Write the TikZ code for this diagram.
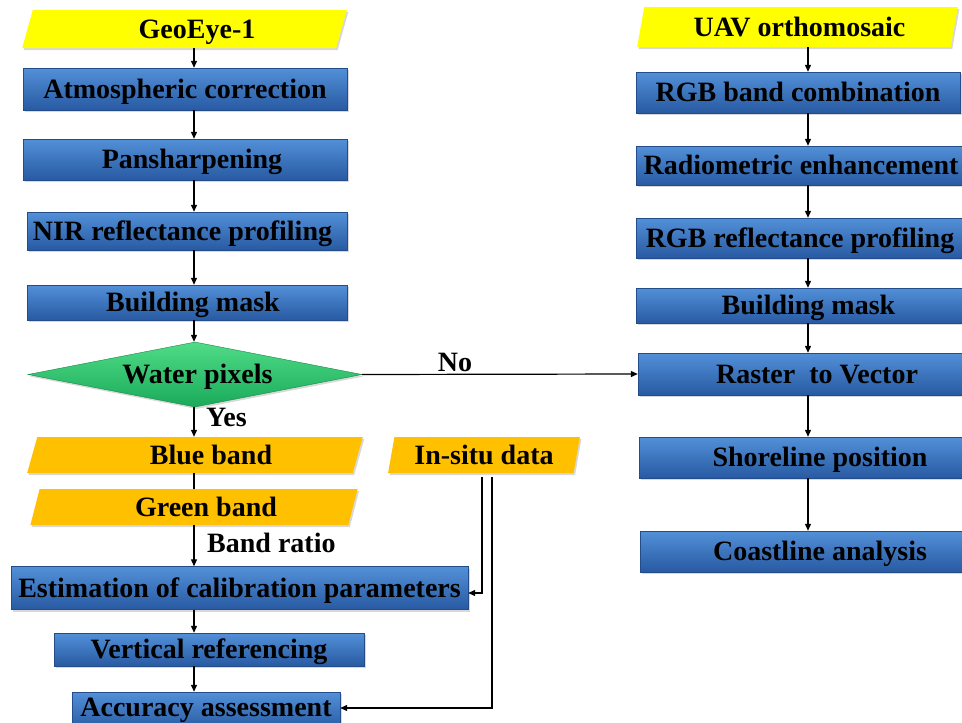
\documentclass[tikz,border=0pt]{standalone}
\usepackage{fontspec}
\setmainfont{Liberation Serif}
\usetikzlibrary{shapes.geometric,shadows,arrows.meta,calc}
\definecolor{boxtop}{RGB}{82,144,216}
\definecolor{boxbot}{RGB}{40,90,162}
\definecolor{ylw}{RGB}{255,255,0}
\definecolor{org}{RGB}{255,192,0}
\definecolor{grntop}{RGB}{80,220,135}
\definecolor{grnbot}{RGB}{25,170,90}
\begin{document}
\begin{tikzpicture}[x=1pt,y=-1pt,
  font=\fontsize{28}{31}\selectfont\bfseries,
  every node/.style={text height=18.5pt, text depth=0pt},
  shad/.style={drop shadow={opacity=0.3,shadow xshift=1.5pt,shadow yshift=-2pt}},
  bbox/.style={rectangle, shade, top color=boxtop, bottom color=boxbot,
    draw=boxbot!85!black, line width=0.4pt, inner sep=0pt, shad},
  para/.style={trapezium, trapezium left angle=75, trapezium right angle=105,
    trapezium stretches=true, inner sep=0pt, shad},
  ylwpara/.style={para, fill=ylw},
  orgpara/.style={para, fill=org},
  decision/.style={diamond, aspect=5.1, inner sep=0pt, shade, top color=grntop,
    bottom color=grnbot, draw=grnbot!80!black, line width=0.4pt, shad},
  lbl/.style={inner sep=0pt},
  arr/.style={line width=1.2pt, -{Triangle[length=7pt,width=6pt]}},
  ln/.style={line width=1.2pt}]
\clip (0,0) rectangle (962,723);
\useasboundingbox (0,0) rectangle (962,723);
\fill[white] (0,0) rectangle (962,723);

% left column
\node[ylwpara, minimum width=325pt, minimum height=38pt] (geo) at (184.5,29) {\hspace*{25pt}GeoEye-1};
\node[bbox, minimum width=324pt, minimum height=42pt] (atm) at (185,89) {Atmospheric correction};
\node[bbox, minimum width=324pt, minimum height=41pt] (pan) at (185,159.5) {\hspace*{14pt}Pansharpening};
\node[bbox, minimum width=320pt, minimum height=38pt] (nir) at (187,231) {NIR reflectance profiling\hspace*{9pt}};
\node[bbox, minimum width=320pt, minimum height=35pt] (bm1) at (187,302.5) {\hspace*{12pt}Building mask};
\node[decision, minimum width=334pt, minimum height=65pt] (water) at (195,374.5) {\hspace*{5pt}Water pixels};
\node[orgpara, minimum width=336pt, minimum height=36pt] (blue) at (195,455) {\hspace*{32pt}Blue band};
\node[orgpara, minimum width=328pt, minimum height=36pt] (green) at (194,507) {\hspace*{24pt}Green band};
\node[orgpara, minimum width=192pt, minimum height=36pt] (insitu) at (484,455) {In-situ data};
\node[bbox, minimum width=457pt, minimum height=43pt] (est) at (239.5,588) {Estimation of calibration parameters};
\node[bbox, minimum width=310pt, minimum height=33pt] (vref) at (209,649.5) {Vertical referencing};
\node[bbox, minimum width=268pt, minimum height=38pt, text depth=8pt] (acc) at (206,711) {Accuracy assessment};

% right column
\node[ylwpara, minimum width=321pt, minimum height=40pt] (uav) at (797.5,27) {\hspace*{4pt}UAV orthomosaic};
\node[bbox, minimum width=324pt, minimum height=41pt] (rgb) at (798,92.5) {RGB band combination};
\node[bbox, minimum width=338pt, minimum height=39pt] (rad) at (805,165.5) {\hspace*{-8pt}Radiometric enhancement};
\node[bbox, minimum width=328pt, minimum height=40pt] (rrp) at (800,238) {RGB reflectance profiling};
\node[bbox, minimum width=328pt, minimum height=35pt] (bm2) at (800,305.5) {\hspace*{17pt}Building mask};
\node[bbox, minimum width=326pt, minimum height=42pt] (ras) at (801,374) {\hspace*{32pt}Raster\ \ to Vector};
\node[bbox, minimum width=325pt, minimum height=41pt] (shr) at (801.5,457.5) {\hspace*{37pt}Shoreline position};
\node[bbox, minimum width=324pt, minimum height=41pt] (cst) at (802,551.5) {\hspace*{36pt}Coastline analysis};

% labels
\node[lbl, anchor=west] (yes) at (206,417) {Yes};
\node[lbl] (no) at (455,362) {No};
\node[lbl, anchor=west] (ratio) at (207,543) {Band ratio};

\coordinate (xl) at (194,0);
\coordinate (xr) at (808,0);

% left connectors
\draw[arr] (geo.south -| xl) -- (atm.north -| xl);
\draw[arr] (atm.south -| xl) -- (pan.north -| xl);
\draw[arr] (pan.south -| xl) -- (nir.north -| xl);
\draw[arr] (nir.south -| xl) -- (bm1.north -| xl);
\draw[arr] (bm1.south -| xl) -- (water.north -| xl);
\draw[arr] (water.south -| xl) -- (blue.north -| xl);
\draw[ln] (blue.south -| xl) -- (green.north -| xl);
\draw[arr] (green.south -| xl) -- (est.north -| xl);
\draw[arr] (est.south -| xl) -- (vref.north -| xl);
\draw[arr] (vref.south -| xl) -- (acc.north -| xl);
\draw[arr] (water.east) -- (ras.west);
\draw[arr] ($(insitu.south)+(-2,4)$) |- ($(est.east)+(0,5)$);
\draw[arr] ($(insitu.south)+(8,4)$) |- ($(acc.east)+(0,-3)$);

% right connectors
\draw[arr] (uav.south -| xr) -- (rgb.north -| xr);
\draw[arr] (rgb.south -| xr) -- (rad.north -| xr);
\draw[arr] (rad.south -| xr) -- (rrp.north -| xr);
\draw[arr] (rrp.south -| xr) -- (bm2.north -| xr);
\draw[arr] (bm2.south -| xr) -- (ras.north -| xr);
\draw[arr] (ras.south -| xr) -- (shr.north -| xr);
\draw[arr] (shr.south -| xr) -- (cst.north -| xr);
\end{tikzpicture}
\end{document}
